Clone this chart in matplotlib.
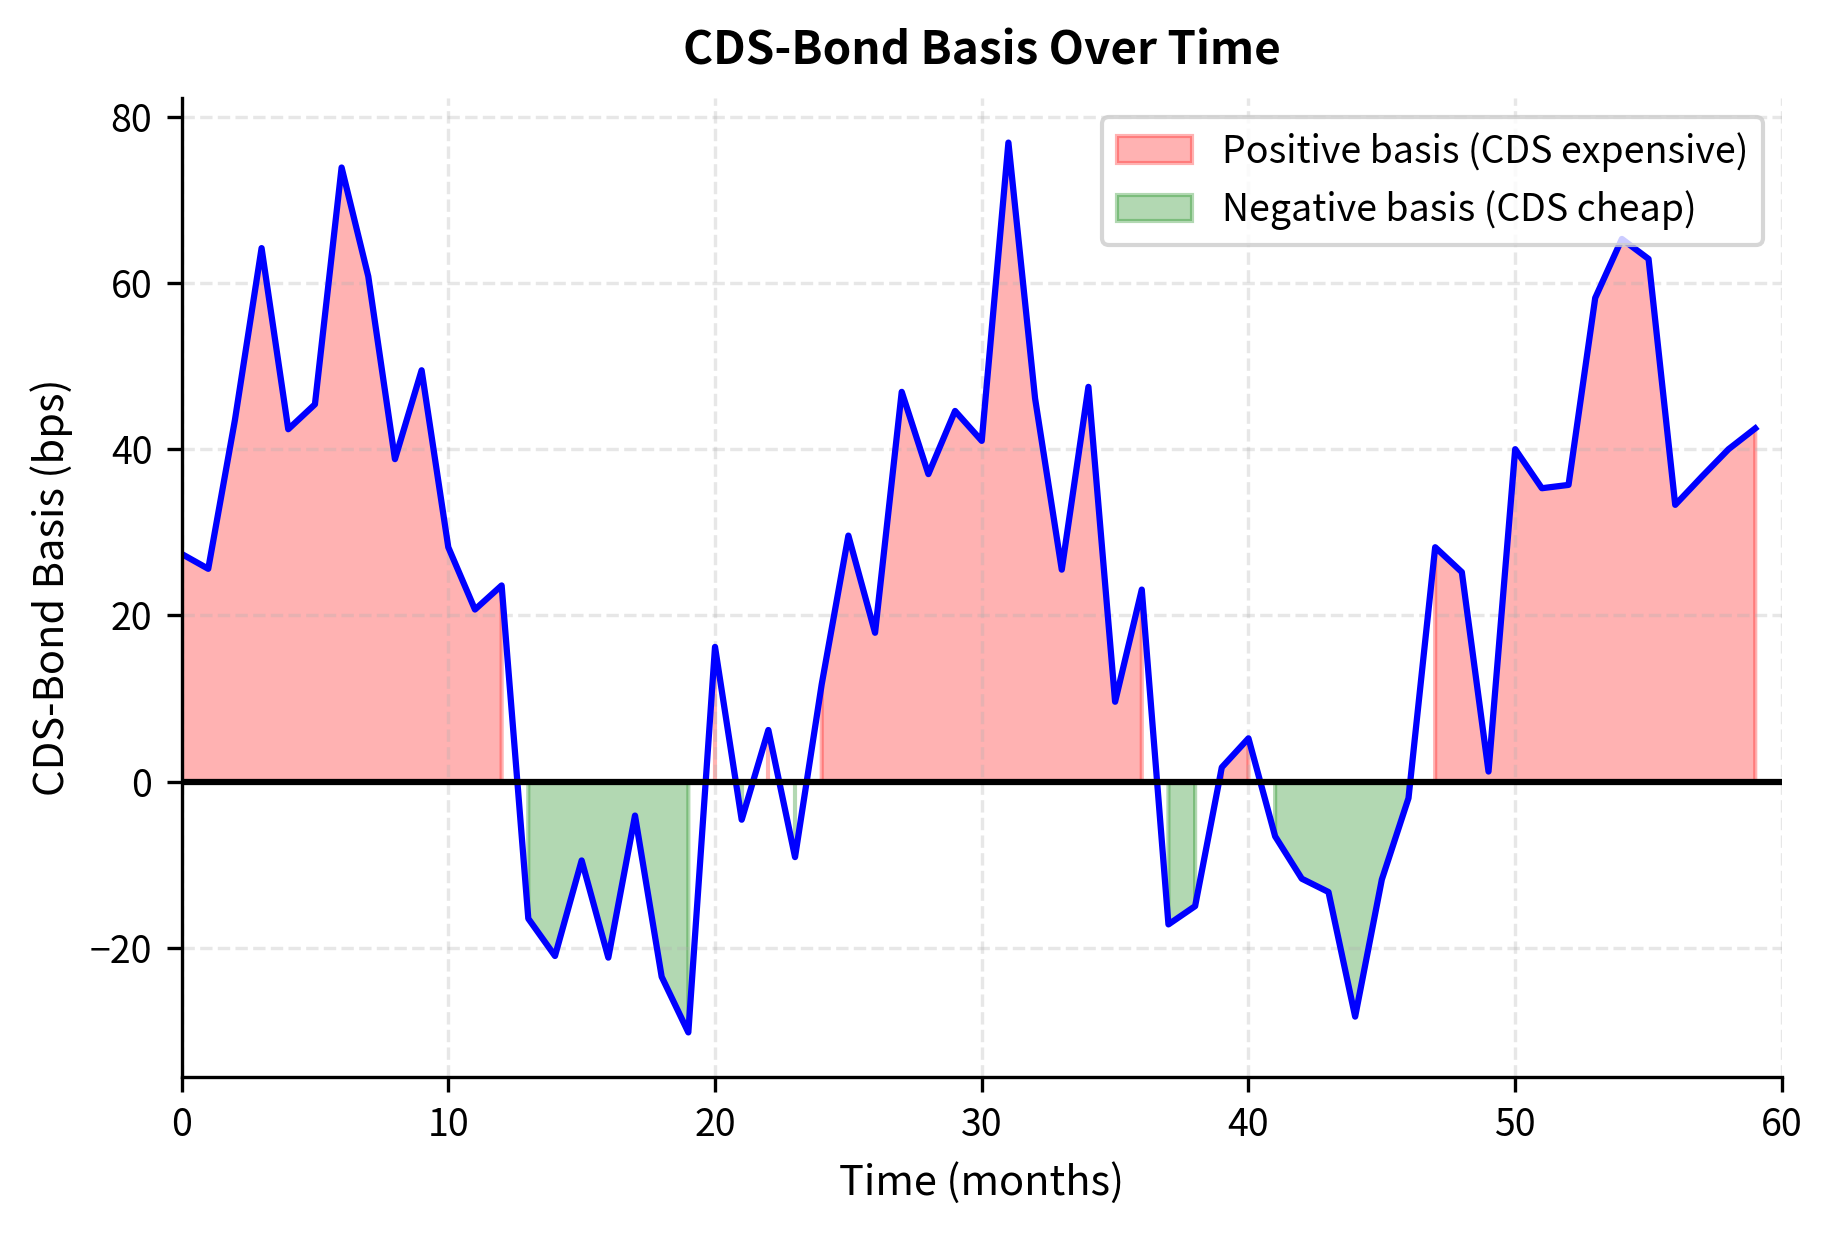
import numpy as np
import matplotlib
matplotlib.use("Agg")
import matplotlib.pyplot as plt

plt.rcParams['font.family'] = ['Noto Sans CJK SC', 'DejaVu Sans']

months = list(range(60))
basis = [27.4, 25.6, 43.5, 64.2, 42.4, 45.4, 73.9, 60.8, 38.8, 49.5,
         28.2, 20.7, 23.6, -16.5, -21.0, -9.5, -21.2, -4.1, -23.5, -30.2,
         16.2, -4.6, 6.2, -9.1, 11.7, 29.6, 17.9, 46.9, 37.0, 44.6,
         41.0, 76.9, 46.1, 25.5, 47.5, 9.6, 23.1, -17.2, -15.0, 1.7,
         5.2, -6.6, -11.7, -13.3, -28.3, -11.8, -2.0, 28.2, 25.2, 1.2,
         40.0, 35.3, 35.7, 58.2, 65.3, 62.9, 33.3, 36.7, 40.0, 42.5]

title = "CDS-Bond Basis Over Time"
xlabel = "Time (months)"
ylabel = "CDS-Bond Basis (bps)"
pos_label = "Positive basis (CDS expensive)"
neg_label = "Negative basis (CDS cheap)"

x = np.array(months)
y = np.array(basis)

fig = plt.figure(figsize=(1834 / 300, 1234 / 300), dpi=300)
ax = fig.add_axes([0.099, 0.1273, 0.8726, 0.7932])

ax.fill_between(x, 0, y, where=y > 0, color='red', alpha=0.3, label=pos_label)
ax.fill_between(x, 0, y, where=y < 0, color='green', alpha=0.3, label=neg_label)
ax.plot(x, y, color='blue', linewidth=1.5)
ax.axhline(0, color='black', linewidth=1.5)

ax.set_xlim(0, 60)
ax.set_title(title, fontsize=11, fontweight='bold', pad=8)
ax.set_xlabel(xlabel, fontsize=10)
ax.set_ylabel(ylabel, fontsize=10)
ax.tick_params(labelsize=9)
ax.grid(True, linestyle='--', alpha=0.3)
ax.spines['top'].set_visible(False)
ax.spines['right'].set_visible(False)
ax.legend(loc='upper right', fontsize=9)

fig.savefig("out.png", dpi=300)
